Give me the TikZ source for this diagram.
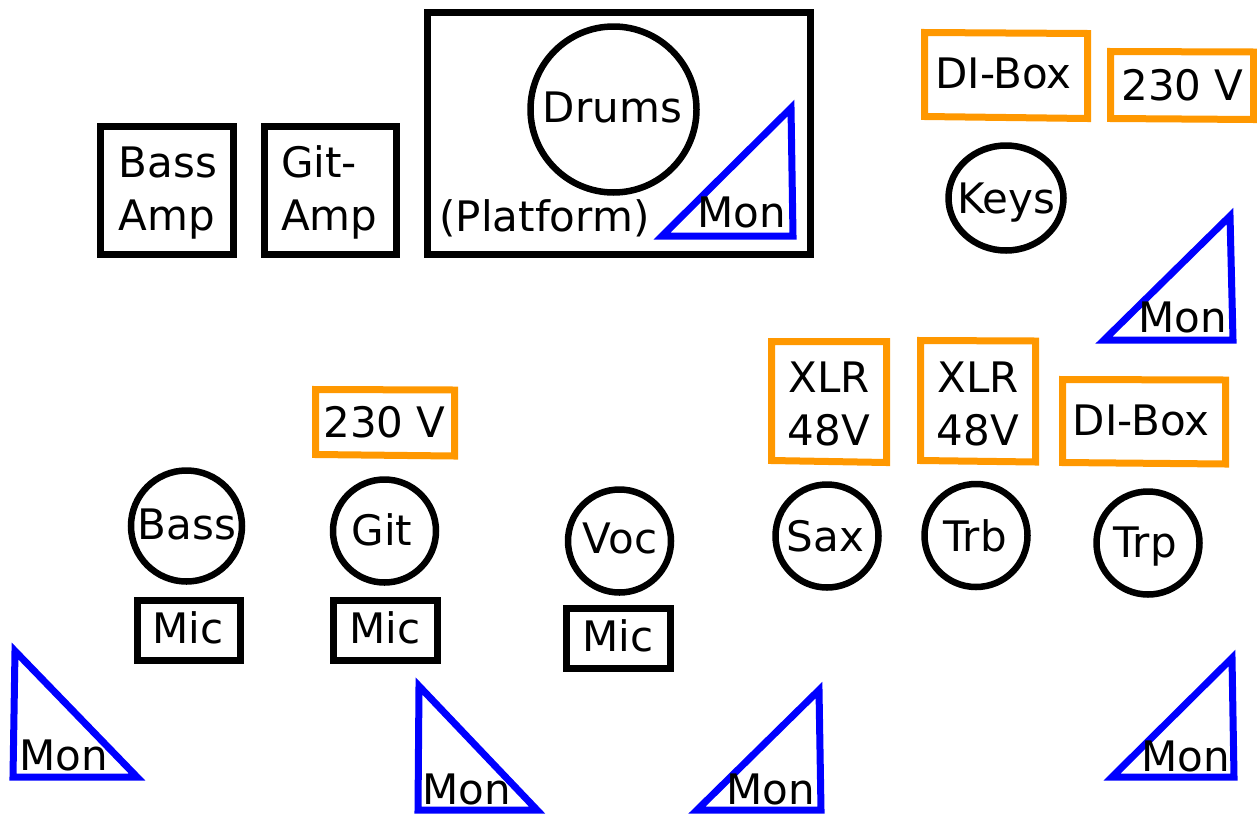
\documentclass[tikz,border=0pt]{standalone}
\usepackage{fontspec}
\setmainfont{DejaVu Sans}
\definecolor{orangeC}{RGB}{255,152,0}
\definecolor{monblue}{RGB}{0,0,255}
\tikzset{
  blk/.style={draw=black, line width=7pt},
  ring/.style={draw=black, line width=6.5pt},
  org/.style={draw=orangeC, line width=7pt},
  mon/.style={draw=monblue, line width=7pt, line join=miter},
  lbl/.style={inner sep=0pt, font=\fontsize{42}{50}\selectfont, anchor=base},
  lblw/.style={lbl, anchor=base west},
}
\begin{document}
\begin{tikzpicture}[x=1pt,y=-1pt]
\useasboundingbox (0,0) rectangle (1257,814);
% ---- amps and platform
\draw[blk] (100.5,126.5) rectangle (233.5,254.5);
\node[lbl] (bassamp1) at (168,177) {Bass};
\node[lbl] (bassamp2) at (167,230) {Amp};
\draw[blk] (264.5,126.5) rectangle (396.5,254.5);
\node[lblw] (gitamp1) at (281,177) {Git-};
\node[lblw] (gitamp2) at (281,230) {Amp};
\draw[blk] (427.5,12.5) rectangle (810.5,254.5);
\draw[ring] (613.5,109.5) circle (83);
\node[lbl] (drums) at (612.5,122) {Drums};
\node[lbl] (platform) at (544.5,231) {(Platform)};
\draw[mon] (662,236) -- (791,108) -- (793,236) -- cycle;
\node[lbl] (mon1) at (742,227) {Mon};
% ---- keys corner
\draw[org] (924.5,32.5) -- (1087.5,33.5) -- (1087.5,118.5) -- (924.5,116.5) -- cycle;
\node[lbl] (dibox1) at (1003.5,88) {DI-Box};
\draw[org] (1110.5,51.5) -- (1253.5,52) -- (1253.5,119.5) -- (1110.5,118.5) -- cycle;
\node[lbl] (v230a) at (1182.5,100) {230 V};
\draw[ring] (1006,198) ellipse (57.5 and 52.5);
\node[lbl] (keys) at (1006,213) {Keys};
\draw[mon] (1104,340) -- (1230,216) -- (1233,340) -- cycle;
\node[lbl] (mon2) at (1183,332) {Mon};
% ---- horns
\draw[org] (771.5,341.5) -- (886.5,341.5) -- (886.5,462.5) -- (771.5,460.5) -- cycle;
\node[lbl] (xlr1a) at (829,392) {XLR};
\node[lbl] (xlr1b) at (829,445) {48V};
\draw[org] (920.5,340.5) -- (1035.5,341) -- (1035.5,462) -- (920.5,460.5) -- cycle;
\node[lbl] (xlr2a) at (978,392) {XLR};
\node[lbl] (xlr2b) at (978,445) {48V};
\draw[org] (1062.5,379.5) -- (1225.5,380) -- (1225.5,464) -- (1062.5,462.5) -- cycle;
\node[lbl] (dibox2) at (1141,435) {DI-Box};
\draw[ring] (827,536) circle (51.5);
\node[lbl] (sax) at (825.5,551) {Sax};
\draw[ring] (976,535.5) circle (51.5);
\node[lbl] (trb) at (975,551) {Trb};
\draw[ring] (1148,543) circle (51.5);
\node[lbl] (trp) at (1145,557) {Trp};
% ---- front line
\draw[org] (315.5,389.5) -- (454.5,390) -- (454.5,456) -- (315.5,454.5) -- cycle;
\node[lbl] (v230b) at (384.5,437) {230 V};
\draw[ring] (186.5,526) circle (55.5);
\node[lbl] (bass) at (187,539) {Bass};
\draw[ring] (384.5,531) circle (51.5);
\node[lbl] (git) at (382,545) {Git};
\draw[ring] (619.5,541) circle (51.5);
\node[lbl] (voc) at (620,553) {Voc};
\draw[blk] (137.5,600.5) rectangle (240.5,660.5);
\node[lbl] (mic1) at (188,643) {Mic};
\draw[blk] (333.5,600.5) rectangle (437.5,660.5);
\node[lbl] (mic2) at (385,643) {Mic};
\draw[blk] (566.5,608.5) rectangle (670.5,668.5);
\node[lbl] (mic3) at (618,651) {Mic};
% ---- floor monitors
\draw[mon] (15,651) -- (137,777) -- (13,777) -- cycle;
\node[lbl] (mon3) at (63.5,770) {Mon};
\draw[mon] (419,686) -- (537,810) -- (418,810) -- cycle;
\node[lbl] (mon4) at (466.5,804) {Mon};
\draw[mon] (819,690) -- (697,810) -- (821,810) -- cycle;
\node[lbl] (mon5) at (771,804) {Mon};
\draw[mon] (1232,658) -- (1112,777) -- (1234,777) -- cycle;
\node[lbl] (mon6) at (1185.5,771) {Mon};
\end{tikzpicture}
\end{document}
